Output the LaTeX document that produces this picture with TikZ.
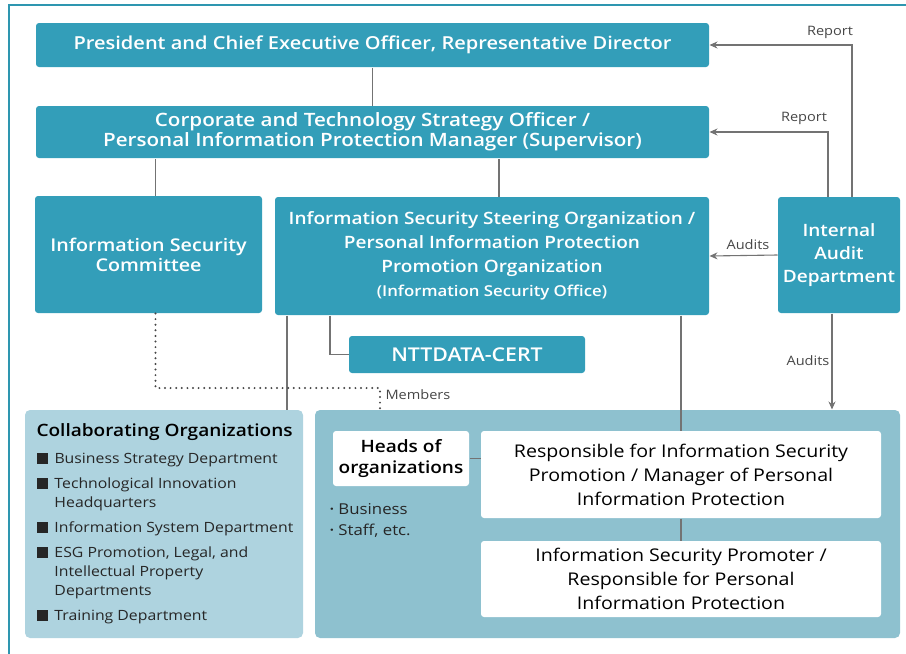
\documentclass[tikz,border=0pt]{standalone}
\usepackage{fontspec}
\setmainfont[FakeStretch=1.12]{Open Sans}
\IfFontExistsTF{Open Sans SemiBold}
  {\newfontfamily\semifont[FakeStretch=1.12]{Open Sans SemiBold}}
  {\IfFontExistsTF{Open Sans Semibold}
    {\newfontfamily\semifont[FakeStretch=1.12]{Open Sans Semibold}}
    {\newcommand{\semifont}{\bfseries}}}
\usetikzlibrary{arrows.meta, calc}
\definecolor{framecol}{RGB}{46,150,176}
\definecolor{boxcol}{RGB}{51,158,185}
\definecolor{collabcol}{RGB}{174,211,223}
\definecolor{orgcol}{RGB}{142,193,207}
\definecolor{linecol}{RGB}{115,115,115}
\definecolor{tagcol}{RGB}{70,70,70}
\newcommand{\sqmark}{\rule{11pt}{11pt}\hspace{7pt}}

\begin{document}
\begin{tikzpicture}[
    x=1pt, y=-1pt,
    >={Stealth[length=8pt,width=7pt]},
    line width=1pt,
    tealbox/.style={fill=boxcol, rounded corners=3pt, text=white, align=center,
      inner sep=0pt, font=\semifont\fontsize{17}{21}\selectfont},
    whitebox/.style={fill=white, rounded corners=3pt, text=black, align=center,
      inner sep=0pt, font=\fontsize{17.5}{24}\selectfont},
    panel/.style={rounded corners=5pt, inner sep=0pt},
    link/.style={linecol, line width=1.1pt},
    members/.style={tagcol, line width=2.2pt, line cap=round, dash pattern=on 0pt off 5.6pt},
    tag/.style={text=tagcol, inner sep=0pt, font=\fontsize{13}{16}\selectfont}
  ]

  \useasboundingbox (0,0) rectangle (906,654);

  % --- outer frame -----------------------------------------------------
  \draw[framecol, line width=2pt] (8.5,654) -- (8.5,5) -- (906,5);

  % --- management boxes ------------------------------------------------
  \node[tealbox, minimum width=673pt, minimum height=44pt,
        font=\semifont\fontsize{17.9}{21}\selectfont] (President) at (372.5,45)
    {President and Chief Executive Officer, Representative Director};
  \node[tealbox, minimum width=673pt, minimum height=52pt,
        font=\semifont\fontsize{18.4}{20}\selectfont] (Corporate) at (372.5,132)
    {Corporate and Technology Strategy Officer /\\ Personal Information Protection Manager (Supervisor)};
  \node[tealbox, minimum width=227pt, minimum height=117pt,
        font=\semifont\fontsize{17.6}{20}\selectfont] (Committee) at (148.5,254.5)
    {Information Security\\ Committee};
  \node[tealbox, minimum width=434pt, minimum height=118pt,
        font=\semifont\fontsize{17}{24}\selectfont] (Steering) at (492,256)
    {Information Security Steering Organization /\\ Personal Information Protection\\
     Promotion Organization\\[0pt] {\fontsize{15}{18}\selectfont (Information Security Office)}};
  \node[tealbox, minimum width=122pt, minimum height=116pt,
        font=\semifont\fontsize{17}{23}\selectfont] (Audit) at (839,255)
    {Internal\\ Audit\\ Department};
  \node[tealbox, minimum width=236pt, minimum height=37pt,
        font=\semifont\fontsize{19}{21}\selectfont] (Cert) at (467,354.5)
    {NTTDATA-CERT};

  % --- lower panels ----------------------------------------------------
  \node[panel, fill=collabcol, minimum width=278pt, minimum height=228pt] (Collab) at (164,524) {};
  \node[panel, fill=orgcol, minimum width=585pt, minimum height=228pt] (Org) at (607.5,524) {};

  \node[anchor=base west, inner sep=0pt, font=\semifont\fontsize{17}{20}\selectfont]
    (CollabTitle) at (36,436) {Collaborating Organizations};
  \node[anchor=north west, inner sep=0pt, align=left, text=black!85,
        font=\fontsize{14.1}{19}\selectfont] (CollabList) at (36,452)
    {\sqmark Business Strategy Department\\[6pt]
     \sqmark Technological Innovation\\ \hspace*{18pt}Headquarters\\[6pt]
     \sqmark Information System Department\\[6pt]
     \sqmark ESG Promotion, Legal, and\\ \hspace*{18pt}Intellectual Property\\ \hspace*{18pt}Departments\\[6pt]
     \sqmark Training Department};

  \node[whitebox, minimum width=136pt, minimum height=55pt,
        font=\semifont\fontsize{17}{21}\selectfont] (Heads) at (401,458.5)
    {Heads of\\ organizations};
  \node[whitebox, minimum width=400pt, minimum height=87pt] (Resp) at (681,474.5)
    {Responsible for Information Security\\ Promotion / Manager of Personal\\ Information Protection};
  \node[whitebox, minimum width=400pt, minimum height=76pt] (Promoter) at (681,579)
    {Information Security Promoter /\\ Responsible for Personal\\ Information Protection};
  \node[anchor=north west, inner sep=0pt, align=left, text=black!85,
        font=\fontsize{15}{21}\selectfont] (HeadsList) at (329,503)
    {{\semifont·} Business\\ {\semifont·} Staff, etc.};

  % --- reporting lines -------------------------------------------------
  \draw[link] (President.south) -- (Corporate.north);
  \draw[link] ([xshift=7pt]Committee.north) -- ([xshift=7pt]Committee.north |- Corporate.south);
  \draw[link] ([xshift=7pt]Steering.north) -- ([xshift=7pt]Steering.north |- Corporate.south);
  \draw[link] ([xshift=-162pt]Steering.south) |- (Cert.west);
  \draw[link] ([xshift=-205pt]Steering.south) -- ([xshift=-205pt]Steering.south |- Collab.north);
  \draw[link] (Resp.north |- Steering.south) -- (Resp.north);
  \draw[link] (Heads.east) -- (Heads.east -| Resp.west);
  \draw[link] (Resp.south) -- (Promoter.north);

  % --- audit lines -----------------------------------------------------
  \draw[link, ->] ([xshift=13pt]Audit.north) |- (President.east);
  \draw[link, ->] ([xshift=-11pt]Audit.north) |- (Corporate.east);
  \draw[link, ->] (Audit.west) -- (Steering.east);
  \draw[link, ->] ([xshift=-7pt]Audit.south) -- ([xshift=-7pt]Audit.south |- Org.north);

  \node[tag] (ReportTop) at (830,32) {Report};
  \node[tag] (ReportMid) at (804,118) {Report};
  \node[tag] (AuditsSide) at (748,245) {Audits};
  \node[tag] (AuditsDown) at (808,361) {Audits};

  % --- members (dotted) ------------------------------------------------
  \coordinate (MembersBend) at (380,388);
  \draw[members] ([xshift=7pt]Committee.south) |- (MembersBend) -- (MembersBend |- Org.north);
  \node[tag, anchor=west] (MembersTag) at (385,395) {Members};

\end{tikzpicture}
\end{document}
